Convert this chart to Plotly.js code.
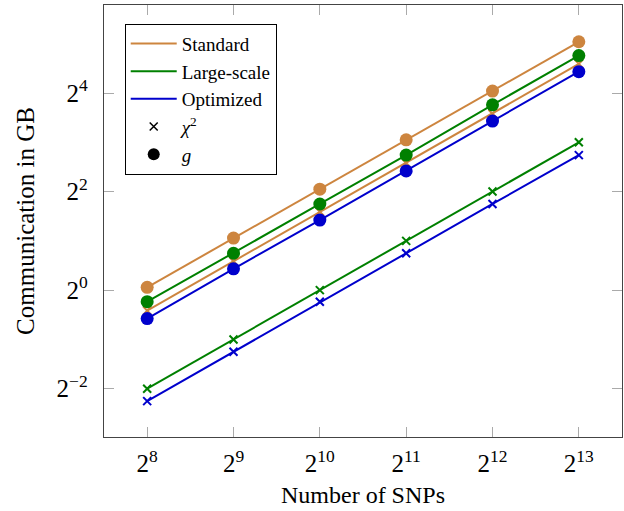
<!DOCTYPE html>
<html>
<head>
<meta charset="utf-8">
<script src="https://cdn.plot.ly/plotly-3.0.1.min.js"></script>
<style>html,body{margin:0;padding:0;background:#fff;}#chart{width:624px;height:511px;}</style>
</head>
<body>
<div id="chart"></div>
<script>
// Data
const snps = [256, 512, 1024, 2048, 4096, 8192];
const standardG   = [1.04, 2.08, 4.14, 8.28, 16.45, 32.9];
const standardChi = [0.75, 1.50, 3.01, 5.98, 11.96, 24.1];
const largeG      = [0.85, 1.68, 3.36, 6.68, 13.55, 27.1];
const largeChi    = [0.25, 0.50, 1.00, 2.00, 4.00, 8.00];
const optG        = [0.67, 1.35, 2.68, 5.35, 10.78, 21.6];
const optChi      = [0.21, 0.42, 0.85, 1.68, 3.36, 6.68];

const xTickVals = [256, 512, 1024, 2048, 4096, 8192];
const xTickText = ['2<sup>8</sup>','2<sup>9</sup>','2<sup>10</sup>','2<sup>11</sup>','2<sup>12</sup>','2<sup>13</sup>'];
const yTickVals = [0.25, 1, 4, 16];
const yTickText = ['2<sup>−2</sup>','2<sup>0</sup>','2<sup>2</sup>','2<sup>4</sup>'];

const seriesNames = ['Standard', 'Large-scale', 'Optimized'];
const markerNames = ['<i>χ</i><sup>2</sup>', '<i>g</i>'];

const cStd = '#CD853F', cLarge = '#008000', cOpt = '#0000CC';
const font = '"Liberation Serif", "DejaVu Serif", serif';

function gTrace(y, c) {
  return {x: snps, y: y, mode: 'lines+markers', showlegend: false, hoverinfo: 'skip',
    line: {color: c, width: 2}, marker: {symbol: 'circle', size: 13, color: c}};
}
function chiTrace(y, c) {
  return {x: snps, y: y, mode: 'lines+markers', showlegend: false, hoverinfo: 'skip',
    line: {color: c, width: 2}, marker: {symbol: 'x-thin', size: 8, color: c, line: {color: c, width: 2}}};
}

const traces = [
  chiTrace(standardChi, cStd), gTrace(standardG, cStd),
  chiTrace(largeChi, cLarge), gTrace(largeG, cLarge),
  chiTrace(optChi, cOpt), gTrace(optG, cOpt),
  {x: [null], y: [null], mode: 'lines', name: seriesNames[0], line: {color: cStd, width: 2}},
  {x: [null], y: [null], mode: 'lines', name: seriesNames[1], line: {color: cLarge, width: 2}},
  {x: [null], y: [null], mode: 'lines', name: seriesNames[2], line: {color: cOpt, width: 2}},
  {x: [null], y: [null], mode: 'markers', name: markerNames[0], marker: {symbol: 'x-thin', size: 8, color: '#000', line: {color: '#000', width: 1.5}}},
  {x: [null], y: [null], mode: 'markers', name: markerNames[1], marker: {symbol: 'circle', size: 12, color: '#000'}}
];

const L2 = Math.log10(2);
const layout = {
  width: 624, height: 511,
  margin: {l: 104, r: 2, t: 5, b: 74},
  paper_bgcolor: '#fff', plot_bgcolor: '#fff',
  font: {family: font, color: '#000', size: 18},
  showlegend: true,
  legend: {x: 0.04, y: 0.957, xanchor: 'left', yanchor: 'top', bgcolor: '#fff',
    bordercolor: '#000', borderwidth: 1, font: {family: font, size: 19}, tracegroupgap: 0,
    traceorder: 'normal', itemwidth: 46},
  xaxis: {type: 'log', range: [7.5 * L2, 13.5 * L2], tickvals: xTickVals, ticktext: xTickText,
    ticks: 'inside', ticklen: 10, tickcolor: '#aaa', tickwidth: 1, showgrid: false, zeroline: false,
    showline: true, linecolor: '#444', linewidth: 1.3, mirror: 'ticks', ticklabelstandoff: 4,
    tickfont: {family: font, size: 25}, title: {text: 'Number of SNPs', font: {family: font, size: 24}, standoff: 10}},
  yaxis: {type: 'log', range: [-2.98 * L2, 5.786 * L2], tickvals: yTickVals, ticktext: yTickText,
    ticks: 'inside', ticklen: 10, tickcolor: '#aaa', tickwidth: 1, showgrid: false, zeroline: false,
    showline: true, linecolor: '#444', linewidth: 1.3, mirror: 'ticks', ticklabelstandoff: 10,
    tickfont: {family: font, size: 25}, title: {text: 'Communication in GB', font: {family: font, size: 25}, standoff: 14}}
};

Plotly.newPlot('chart', traces, layout, {staticPlot: true, displayModeBar: false});
</script>
</body>
</html>
